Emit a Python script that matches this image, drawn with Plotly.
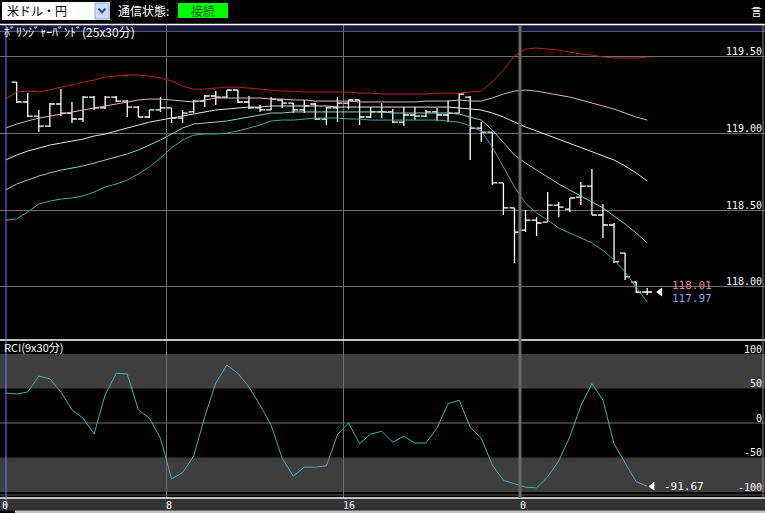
import pandas as pd
import plotly.graph_objects as go

W, H = 765, 513

# 30-minute bars, plotted at the bar centre; the first point sits at the left edge (bar before 1:00)
times = pd.date_range("2015-03-10 00:45", periods=59, freq="30min")
bar_times = times[1:]

# === price bars (USD/JPY, 30 min) ===
bar_open = [119.335, 119.205, 119.113, 119.048, 119.192, 119.133, 119.094, 119.237, 119.166, 119.237,
            119.211, 119.172, 119.107, 119.153, 119.166, 119.100, 119.140, 119.211, 119.244, 119.237,
            119.283, 119.205, 119.166, 119.153, 119.218, 119.198, 119.153, 119.192, 119.094, 119.166,
            119.198, 119.218, 119.107, 119.140, 119.140, 119.074, 119.120, 119.113, 119.140, 119.120,
            119.133, 119.237, 119.035, 119.009, 118.677, 118.514, 118.370, 118.435, 118.422, 118.533,
            118.507, 118.585, 118.657, 118.468, 118.403, 118.220, 118.031, 117.966]
bar_high = [119.335, 119.263, 119.153, 119.198, 119.289, 119.205, 119.244, 119.244, 119.244, 119.244,
            119.218, 119.179, 119.153, 119.237, 119.166, 119.153, 119.218, 119.250, 119.276, 119.283,
            119.283, 119.244, 119.185, 119.237, 119.224, 119.198, 119.218, 119.198, 119.172, 119.237,
            119.218, 119.218, 119.172, 119.198, 119.159, 119.172, 119.172, 119.153, 119.166, 119.218,
            119.263, 119.244, 119.074, 119.009, 118.677, 118.514, 118.501, 118.455, 118.618, 118.553,
            118.579, 118.683, 118.768, 118.540, 118.416, 118.220, 118.031, 117.992]
bar_low = [119.198, 119.107, 119.009, 119.042, 119.113, 119.068, 119.074, 119.153, 119.159, 119.205,
           119.107, 119.107, 119.100, 119.140, 119.068, 119.068, 119.133, 119.172, 119.185, 119.231,
           119.198, 119.159, 119.140, 119.153, 119.166, 119.133, 119.133, 119.087, 119.055, 119.074,
           119.159, 119.055, 119.100, 119.100, 119.068, 119.048, 119.087, 119.107, 119.081, 119.074,
           119.133, 118.827, 118.944, 118.664, 118.468, 118.155, 118.357, 118.331, 118.422, 118.455,
           118.488, 118.533, 118.468, 118.318, 118.155, 118.044, 117.959, 117.946]
bar_close = [119.205, 119.113, 119.048, 119.192, 119.133, 119.094, 119.237, 119.166, 119.237, 119.211,
             119.172, 119.107, 119.153, 119.166, 119.100, 119.133, 119.211, 119.244, 119.237, 119.283,
             119.205, 119.166, 119.153, 119.224, 119.198, 119.153, 119.179, 119.094, 119.166, 119.198,
             119.218, 119.107, 119.140, 119.140, 119.074, 119.120, 119.113, 119.140, 119.120, 119.133,
             119.257, 119.035, 119.009, 118.677, 118.514, 118.357, 118.435, 118.416, 118.533, 118.520,
             118.579, 118.657, 118.468, 118.403, 118.162, 118.064, 117.966, 117.966]

# === Bollinger bands (25 x 30min) ===
bb_up2 = [119.224, 119.270, 119.276, 119.270, 119.283, 119.302, 119.315, 119.335, 119.348, 119.368,
          119.374, 119.381, 119.381, 119.374, 119.361, 119.342, 119.309, 119.289, 119.289, 119.296,
          119.302, 119.302, 119.296, 119.289, 119.283, 119.276, 119.276, 119.270, 119.270, 119.270,
          119.270, 119.270, 119.263, 119.263, 119.257, 119.257, 119.257, 119.257, 119.257, 119.263,
          119.263, 119.263, 119.270, 119.276, 119.335, 119.413, 119.505, 119.550, 119.557, 119.550,
          119.544, 119.531, 119.518, 119.511, 119.498, 119.492, 119.492, 119.492, 119.498]
bb_up1 = [119.035, 119.061, 119.081, 119.100, 119.113, 119.126, 119.140, 119.153, 119.166, 119.179,
          119.192, 119.205, 119.218, 119.224, 119.224, 119.218, 119.211, 119.205, 119.218, 119.231,
          119.231, 119.231, 119.231, 119.231, 119.224, 119.224, 119.218, 119.218, 119.211, 119.211,
          119.211, 119.211, 119.205, 119.205, 119.205, 119.205, 119.205, 119.205, 119.211, 119.211,
          119.211, 119.218, 119.211, 119.211, 119.231, 119.257, 119.276, 119.283, 119.276, 119.263,
          119.250, 119.237, 119.218, 119.198, 119.179, 119.159, 119.133, 119.107, 119.087]
bb_mid = [118.827, 118.859, 118.885, 118.905, 118.924, 118.937, 118.950, 118.963, 118.983, 118.996,
          119.016, 119.035, 119.055, 119.074, 119.087, 119.100, 119.113, 119.126, 119.140, 119.153,
          119.159, 119.166, 119.172, 119.172, 119.179, 119.179, 119.179, 119.179, 119.179, 119.179,
          119.172, 119.172, 119.172, 119.172, 119.172, 119.172, 119.172, 119.172, 119.172, 119.172,
          119.172, 119.166, 119.159, 119.153, 119.133, 119.107, 119.074, 119.042, 119.016, 118.989,
          118.963, 118.937, 118.911, 118.885, 118.859, 118.827, 118.788, 118.742, 118.690]
bb_dn1 = [118.631, 118.670, 118.696, 118.722, 118.742, 118.761, 118.774, 118.788, 118.807, 118.827,
          118.846, 118.866, 118.892, 118.924, 118.957, 118.996, 119.035, 119.061, 119.068, 119.074,
          119.081, 119.094, 119.107, 119.120, 119.133, 119.133, 119.140, 119.140, 119.140, 119.140,
          119.140, 119.140, 119.140, 119.140, 119.140, 119.133, 119.133, 119.133, 119.133, 119.133,
          119.133, 119.126, 119.107, 119.087, 119.022, 118.944, 118.859, 118.807, 118.761, 118.716,
          118.670, 118.631, 118.592, 118.553, 118.514, 118.461, 118.409, 118.351, 118.286]
bb_dn2 = [118.435, 118.442, 118.488, 118.540, 118.559, 118.572, 118.579, 118.592, 118.618, 118.651,
          118.670, 118.696, 118.735, 118.781, 118.840, 118.905, 118.957, 118.989, 118.996, 118.996,
          119.003, 119.016, 119.035, 119.055, 119.081, 119.087, 119.087, 119.094, 119.100, 119.100,
          119.100, 119.094, 119.094, 119.087, 119.087, 119.087, 119.087, 119.087, 119.087, 119.087,
          119.081, 119.074, 119.048, 119.016, 118.911, 118.781, 118.651, 118.546, 118.481, 118.435,
          118.383, 118.351, 118.318, 118.286, 118.237, 118.175, 118.096, 117.999, 117.901]

# === RCI (9 x 30min) ===
rci = [43.5, 42, 45, 68, 64, 45, 19, 7, -16, 41,
       72, 71, 19, 7, -22, -81, -72, -48, 9, 58,
       84, 72, 52, 26, -3, -51, -77, -64, -64, -62,
       -17, 0, -30, -16, -12, -28, -19, -29, -29, -7,
       28, 33, -6, -22, -61, -83, -88, -93, -94, -78,
       -55, -20, 25, 57, 33, -30, -58, -85, -91.67]

last_ask = 118.01
last_bid = 117.97

price_ticks = [118.0, 118.5, 119.0, 119.5]
price_labels = ["118.00", "118.50", "119.00", "119.50"]
rci_ticks = [100, 50, 0, -50, -100]
rci_labels = ["100", "50", "0", "-50", "-100"]
hour_ticks = ["2015-03-10 08:00", "2015-03-10 16:00", "2015-03-11 00:00"]
hour_labels = ["8", "16", "0"]
day_break = "2015-03-11 00:00"
x_range = ["2015-03-10 00:29:50", "2015-03-11 11:04:24"]

JP = "Noto Sans CJK JP"
MONO = "DejaVu Sans Mono"


def sx(px):
    return px / W


def sy(px):
    return 1 - px / H


fig = go.Figure()

# bollinger lines
bands = [(bb_up2, "#b3202e"), (bb_up1, "#dcb6c2"), (bb_mid, "#e6e6e6"),
         (bb_dn1, "#8fcfc6"), (bb_dn2, "#3fa6a2")]
for vals, col in bands:
    fig.add_trace(go.Scatter(x=times, y=vals, mode="lines", line=dict(color=col, width=1),
                             hoverinfo="skip", xaxis="x", yaxis="y"))

fig.add_trace(go.Ohlc(
    x=bar_times, open=bar_open, high=bar_high, low=bar_low, close=bar_close,
    increasing=dict(line=dict(color="white", width=1.3)),
    decreasing=dict(line=dict(color="white", width=1.3)),
    tickwidth=0.45, hoverinfo="skip", xaxis="x", yaxis="y",
))

fig.add_trace(go.Scatter(x=times, y=rci, mode="lines", line=dict(color="#3cb2b2", width=1),
                         hoverinfo="skip", xaxis="x2", yaxis="y2"))

# current value markers
t_last = times[-1]
fig.add_trace(go.Scatter(x=[t_last + pd.Timedelta(minutes=35)], y=[bar_close[-1]], mode="markers",
                         marker=dict(symbol="triangle-left", size=8, color="white"),
                         cliponaxis=False, hoverinfo="skip", xaxis="x", yaxis="y"))
fig.add_trace(go.Scatter(x=[t_last + pd.Timedelta(minutes=14)], y=[rci[-1]], mode="markers",
                         marker=dict(symbol="triangle-left", size=8, color="white"),
                         cliponaxis=False, hoverinfo="skip", xaxis="x2", yaxis="y2"))

shapes = []
# top bar widgets
shapes.append(dict(type="rect", xref="paper", yref="paper", x0=sx(2), x1=sx(110), y0=sy(20), y1=sy(2),
                   fillcolor="white", line=dict(width=0)))
shapes.append(dict(type="rect", xref="paper", yref="paper", x0=sx(95), x1=sx(109), y0=sy(19), y1=sy(3),
                   fillcolor="#cfdcf6", line=dict(color="#8ea6d6", width=1)))
shapes.append(dict(type="path", xref="paper", yref="paper",
                   path="M %f,%f L %f,%f L %f,%f" % (sx(98.5), sy(8.5), sx(102), sy(12.5), sx(105.5), sy(8.5)),
                   line=dict(color="#2c4c9c", width=2)))
shapes.append(dict(type="rect", xref="paper", yref="paper", x0=sx(178), x1=sx(228), y0=sy(18), y1=sy(3),
                   fillcolor="#00ff00", line=dict(width=0)))
# main panel frame
shapes.append(dict(type="rect", xref="paper", yref="paper", x0=0, x1=1, y0=sy(31), y1=sy(25),
                   fillcolor="#16163a", line=dict(width=0), layer="below"))
shapes.append(dict(type="line", xref="paper", yref="paper", x0=0, x1=1, y0=sy(24.5), y1=sy(24.5),
                   line=dict(color="white", width=1.5)))
shapes.append(dict(type="line", xref="paper", yref="paper", x0=0, x1=1, y0=sy(31.5), y1=sy(31.5),
                   line=dict(color="#54587a", width=1)))
shapes.append(dict(type="line", xref="paper", yref="paper", x0=0, x1=1, y0=sy(340), y1=sy(340),
                   line=dict(color="white", width=1.5)))
# RCI zones
shapes.append(dict(type="rect", xref="paper", yref="y2", x0=0, x1=1, y0=50, y1=100,
                   fillcolor="#3e3e3e", line=dict(width=0), layer="below"))
shapes.append(dict(type="rect", xref="paper", yref="y2", x0=0, x1=1, y0=-100, y1=-50,
                   fillcolor="#3e3e3e", line=dict(width=0), layer="below"))
shapes.append(dict(type="line", xref="paper", yref="y2", x0=0, x1=1, y0=0, y1=0,
                   line=dict(color="#707070", width=1), layer="below"))
shapes.append(dict(type="line", xref="paper", yref="paper", x0=0, x1=1, y0=sy(495), y1=sy(495),
                   line=dict(color="#555555", width=1)))
# time strip
shapes.append(dict(type="rect", xref="paper", yref="paper", x0=0, x1=1, y0=sy(510.5), y1=sy(498.5),
                   fillcolor="#343434", line=dict(width=0), layer="below"))
shapes.append(dict(type="rect", xref="paper", yref="paper", x0=sx(15), x1=1, y0=0, y1=sy(510.5),
                   fillcolor="#c4c4c4", line=dict(width=0)))
shapes.append(dict(type="line", xref="paper", yref="paper", x0=0, x1=1, y0=sy(498), y1=sy(498),
                   line=dict(color="white", width=1.5)))
# day separator, left cursor and right edge
shapes.append(dict(type="line", xref="x", yref="paper", x0=day_break, x1=day_break, y0=sy(498), y1=sy(25),
                   line=dict(color="#6a6a6a", width=3)))
shapes.append(dict(type="line", xref="paper", yref="paper", x0=sx(6), x1=sx(6), y0=sy(510), y1=sy(25),
                   line=dict(color="#6f7cff", width=1)))
shapes.append(dict(type="line", xref="paper", yref="paper", x0=sx(763), x1=sx(763), y0=sy(498), y1=sy(25),
                   line=dict(color="#8a8a8a", width=1)))

annotations = [
    dict(text="米ドル・円", x=sx(5), y=sy(11), xanchor="left", font=dict(family=JP, size=12, color="black")),
    dict(text="通信状態:", x=sx(116), y=sy(11), xanchor="left", font=dict(family=JP, size=12, color="white")),
    dict(text="接続", x=sx(203), y=sy(10.5), xanchor="center", font=dict(family=JP, size=12, color="#0a5a0a")),
    dict(text="言", x=sx(764), y=sy(11), xanchor="right", font=dict(family=JP, size=11, color="white")),
    dict(text="ﾎﾞﾘﾝｼﾞｬｰﾊﾞﾝﾄﾞ(25x30分)", x=sx(2), y=sy(31.5), xanchor="left",
         font=dict(family=JP, size=12, color="white")),
    dict(text="RCI(9x30分)", x=sx(2), y=sy(347), xanchor="left", font=dict(family=JP, size=11, color="white")),
    dict(text="0", x=sx(0), y=sy(505.5), xanchor="left", font=dict(family=MONO, size=10, color="white")),
]
for a in annotations:
    a.update(xref="paper", yref="paper", yanchor="middle", showarrow=False)

t_label = t_last + pd.Timedelta(minutes=62)
annotations += [
    dict(text="%.2f" % last_ask, x=t_label, y=bar_close[-1], xref="x", yref="y", xanchor="left",
         yshift=6.5, showarrow=False, font=dict(family=MONO, size=11, color="#e08c80")),
    dict(text="%.2f" % last_bid, x=t_label, y=bar_close[-1], xref="x", yref="y", xanchor="left",
         yshift=-6.5, showarrow=False, font=dict(family=MONO, size=11, color="#9c9cf0")),
    dict(text="%.2f" % rci[-1], x=t_last + pd.Timedelta(minutes=40), y=rci[-1], xref="x2", yref="y2",
         xanchor="left", showarrow=False, font=dict(family=MONO, size=11, color="white")),
]

grid = "#707070"
fig.update_layout(
    width=W, height=H,
    margin=dict(l=0, r=0, t=0, b=0),
    paper_bgcolor="black", plot_bgcolor="rgba(0,0,0,0)",
    showlegend=False,
    xaxis=dict(domain=[0, 1], anchor="y", type="date", range=x_range, tickvals=hour_ticks,
               showticklabels=False, showgrid=True, gridcolor=grid, gridwidth=1, zeroline=False,
               showline=False, ticks="", rangeslider=dict(visible=False)),
    xaxis2=dict(domain=[0, 1], anchor="y2", type="date", range=x_range, matches="x",
                tickvals=hour_ticks, ticktext=hour_labels, ticklabelposition="outside right",
                tickfont=dict(family=MONO, size=10, color="white"), showgrid=True, gridcolor=grid,
                gridwidth=1, zeroline=False, showline=False, ticks="", rangeslider=dict(visible=False)),
    yaxis=dict(domain=[sy(340), sy(25)], anchor="x", range=[117.653, 119.707], side="right",
               tickvals=price_ticks, ticktext=price_labels, ticklabelposition="inside",
               ticklabelshift=-5, tickfont=dict(family=MONO, size=10, color="white"),
               showgrid=True, gridcolor=grid, gridwidth=1, zeroline=False, showline=False, ticks=""),
    yaxis2=dict(domain=[sy(498), sy(340)], anchor="x2", range=[-108.7, 120.3], side="right",
                tickvals=rci_ticks, ticktext=rci_labels, ticklabelposition="inside",
                ticklabelshift=-5, tickfont=dict(family=MONO, size=10, color="white"),
                showgrid=False, zeroline=False, showline=False, ticks=""),
    shapes=shapes,
    annotations=annotations,
)

# page body has a default margin; drop it so the figure sits at the window corner
fig.write_html("out.html", config={"displayModeBar": False},
               post_script="document.body.style.margin='0';")
